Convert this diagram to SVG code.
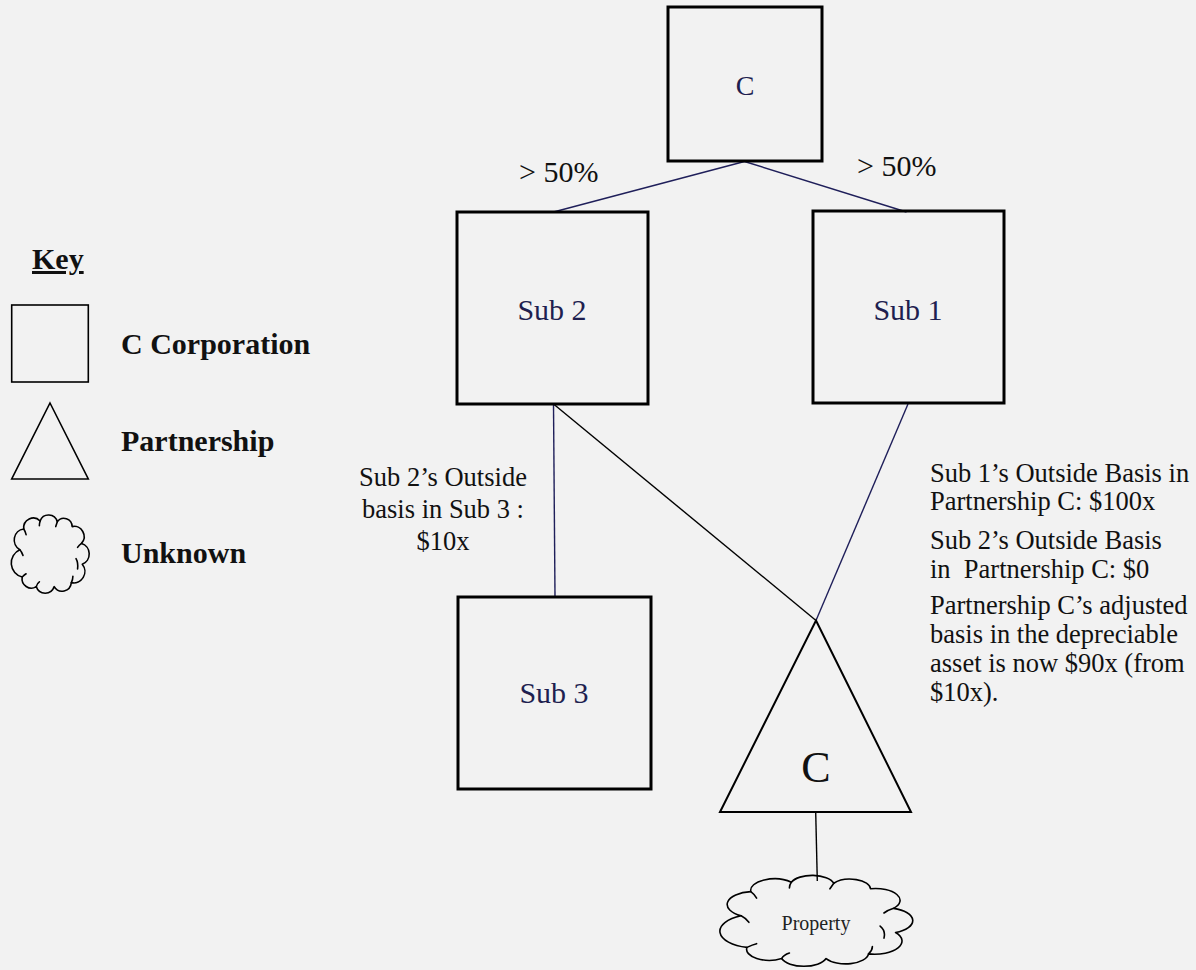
<svg xmlns="http://www.w3.org/2000/svg" width="1196" height="970" viewBox="0 0 1196 970">
  <style>
    .bg { fill: #f2f2f2; }
    .box { fill: none; stroke: #000; stroke-width: 3; }
    .keybox { fill: none; stroke: #000; stroke-width: 1.6; }
    .tri { fill: none; stroke: #000; stroke-width: 2; stroke-linejoin: miter; }
    .cloud { fill: none; stroke: #000; stroke-width: 1.6; vector-effect: non-scaling-stroke; stroke-linejoin: round; stroke-linecap: round; }
    .navy { stroke: #1f1f5a; stroke-width: 1.4; fill: none; }
    .blk { stroke: #000; stroke-width: 1.4; fill: none; }
    text { font-family: "Liberation Serif", "Times New Roman", serif; }
    .lbl { font-size: 30px; fill: #1f1f50; text-anchor: middle; }
    .pct { font-size: 30px; fill: #111; }
    .note { font-size: 26.5px; fill: #111; }
    .key { font-size: 30px; font-weight: bold; fill: #111; }
  </style>
  <defs>
    <!-- unit cloud, drawn in a 0..100 box and scaled where used -->
    <g id="cloudShape">
      <path class="cloud"
        d="M12,46 A13.9,13.9 0 0 1 17,20 A12.3,12.3 0 0 1 38,10 A11.6,11.6 0 0 1 60,11 A10.5,10.5 0 0 1 79,17 A12.7,12.7 0 0 1 91,38 A13.7,13.7 0 0 1 92,64 A14.2,14.2 0 0 1 78,87 A11.9,11.9 0 0 1 56,92 A12.1,12.1 0 0 1 33,92 A11.8,11.8 0 0 1 15,80 A17.9,17.9 0 0 1 12,46 Z"/>
      <!-- inner bump creases -->
      <path class="cloud"
        d="M12,46 Q14,48 16,53 M17,20 Q19,23 20,27 M38,10 Q37,13 37,16 M60,11 Q59,14 58,17 M91,38 Q88,40 86,43 M84,57 Q87,62 86,70 M78,87 Q80,83 80,79 M33,92 Q34,88 37,86 M15,80 Q18,77 20,76"/>
    </g>
  </defs>

  <rect class="bg" x="0" y="0" width="1196" height="970"/>

  <!-- connectors -->
  <g id="connectors">
    <line class="navy" x1="744.5" y1="161.5" x2="553.5" y2="212"/>
    <line class="navy" x1="744.5" y1="161.5" x2="906.5" y2="212"/>
    <line class="navy" x1="553.5" y1="404" x2="555" y2="597"/>
    <line class="blk" x1="553.5" y1="404" x2="816" y2="620.5"/>
    <line class="navy" x1="908" y1="404" x2="816" y2="620.5"/>
    <line class="blk" x1="815.7" y1="812" x2="817.3" y2="881"/>
  </g>

  <!-- ownership percentages -->
  <text class="pct" x="519" y="182">&gt; 50%</text>
  <text class="pct" x="857" y="176">&gt; 50%</text>

  <g id="node-c">
    <rect class="box" x="668" y="7" width="154" height="154"/>
    <text class="lbl" x="745" y="95" style="font-size:28px">C</text>
  </g>

  <g id="node-sub2">
    <rect class="box" x="457" y="212" width="191" height="192"/>
    <text class="lbl" x="552" y="320">Sub 2</text>
  </g>

  <g id="node-sub1">
    <rect class="box" x="813" y="211" width="191" height="192"/>
    <text class="lbl" x="908" y="320">Sub 1</text>
  </g>

  <g id="node-sub3">
    <rect class="box" x="458" y="597" width="193" height="192"/>
    <text class="lbl" x="554" y="703">Sub 3</text>
  </g>

  <g id="node-partnership-c">
    <polygon class="tri" points="816,620.5 911,812 720,812"/>
    <text x="816" y="782" style="font-size:44px; fill:#111; text-anchor:middle">C</text>
  </g>

  <g id="node-property">
    <use href="#cloudShape" transform="translate(718,873) scale(1.93,0.93)"/>
    <text x="816" y="930" style="font-size:20px; fill:#222; text-anchor:middle">Property</text>
  </g>

  <!-- basis notes -->
  <g id="note-sub3-basis">
    <text class="note" x="443" y="486" text-anchor="middle">Sub 2’s Outside</text>
    <text class="note" x="443" y="518" text-anchor="middle">basis in Sub 3 :</text>
    <text class="note" x="443" y="550" text-anchor="middle">$10x</text>
  </g>

  <g id="note-partnership-basis">
    <text class="note" x="930" y="482">Sub 1’s Outside Basis in</text>
    <text class="note" x="930" y="510">Partnership C: $100x</text>
    <text class="note" x="930" y="549">Sub 2’s Outside Basis</text>
    <text class="note" x="930" y="578" xml:space="preserve">in  Partnership C: $0</text>
    <text class="note" x="930" y="614">Partnership C’s adjusted</text>
    <text class="note" x="930" y="643">basis in the depreciable</text>
    <text class="note" x="930" y="672">asset is now $90x (from</text>
    <text class="note" x="930" y="701">$10x).</text>
  </g>

  <!-- legend -->
  <g id="key">
    <text class="key" x="32" y="269" text-decoration="underline">Key</text>
    <rect class="keybox" x="11.7" y="305" width="76.6" height="77"/>
    <text class="key" x="121" y="354">C Corporation</text>
    <polygon class="tri" style="stroke-width:1.6" points="50,403 88.3,479 11.7,479"/>
    <text class="key" x="121" y="451">Partnership</text>
    <use href="#cloudShape" transform="translate(10.5,513) scale(0.78,0.8)"/>
    <text class="key" x="121" y="563">Unknown</text>
  </g>
</svg>
